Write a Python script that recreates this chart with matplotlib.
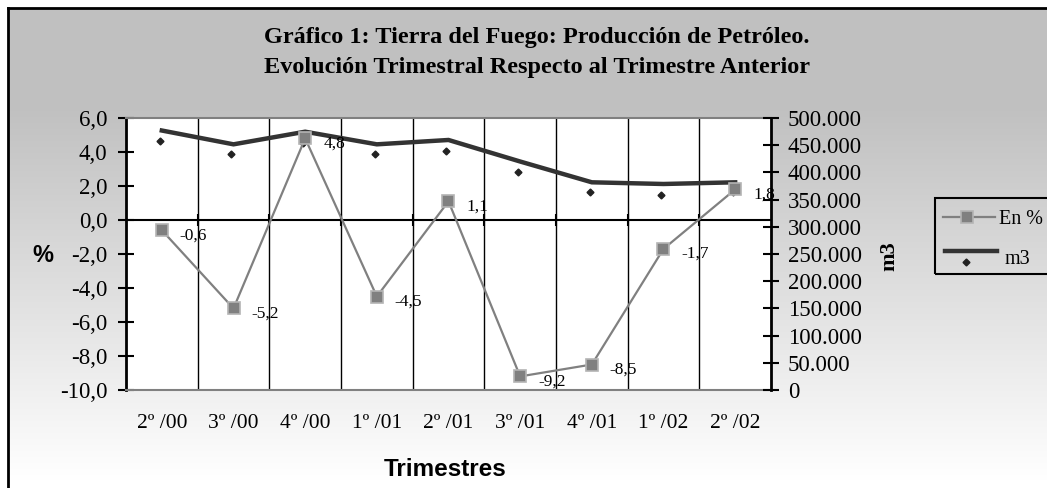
import matplotlib
matplotlib.use('Agg')
import matplotlib.pyplot as plt
import numpy as np
from matplotlib.lines import Line2D
from matplotlib.patches import Rectangle
from matplotlib.ticker import FuncFormatter, MultipleLocator

categories = ["2º /00", "3º /00", "4º /00", "1º /01", "2º /01",
              "3º /01", "4º /01", "1º /02", "2º /02"]
pct = [-0.6, -5.2, 4.8, -4.5, 1.1, -9.2, -8.5, -1.7, 1.8]
m3_line = [477000, 451600, 474800, 451600, 459600, 420000, 381800, 378700, 381800]
m3_dots = [458300, 433300, 454600, 433300, 439900, 400200, 363400, 359000, 364500]

W, H = 1047, 488
fig = plt.figure(figsize=(W / 100, H / 100), dpi=100)
fig.patch.set_facecolor('white')

def fx(x):
    return x / W

def fy(y):
    return 1 - y / H

# background gradient panel
bg = fig.add_axes([fx(8), 0, 1 - fx(8), fy(8)])
rows = np.arange(8, H)
vals = np.where(rows < 105, 0.753, 0.753 + (1 - 0.753) * np.clip((rows - 105) / (480 - 105), 0, 1))
grad = np.repeat(vals[:, None], 2, axis=1)
bg.imshow(np.dstack([grad, grad, grad]), aspect='auto', extent=[0, 1, 0, 1], interpolation='bilinear')
bg.set_xlim(0, 1)
bg.set_ylim(0, 1)
bg.axis('off')
fig.add_artist(Line2D([fx(8), fx(8)], [0, fy(8)], color='black', lw=2, transform=fig.transFigure))
fig.add_artist(Line2D([fx(8), 1], [fy(8), fy(8)], color='black', lw=2, transform=fig.transFigure))

serif = 'Liberation Serif'
sans = 'Liberation Sans'

ax = fig.add_axes([fx(126), fy(390), fx(771) - fx(126), fy(118) - fy(390)])
ax.set_facecolor('white')
x = np.arange(1, len(categories) + 1)
ax.set_xlim(0.5, len(categories) + 0.5)
ax.set_ylim(-10, 6)

# vertical gridlines at category boundaries
bounds = np.arange(1.5, len(categories), 1.0)
ax.vlines(bounds, -10, 6, color='black', lw=1, zorder=1)
ax.axhline(0, color='black', lw=1.5, zorder=2)
ax.vlines(bounds, -0.38, 0.38, color='black', lw=1.5, zorder=2)

ax.yaxis.set_major_locator(MultipleLocator(2))
ax.yaxis.set_major_formatter(FuncFormatter(lambda v, p: f"{v:.1f}".replace('.', ',')))
ax.tick_params(axis='y', direction='inout', length=12, width=1.5, labelsize=16.5, pad=7.5)
ax.set_xticks(x)
ax.set_xticklabels(categories, fontfamily=serif, fontsize=15.5)
ax.tick_params(axis='x', length=0, pad=17)
for lab in ax.get_yticklabels():
    lab.set_fontfamily(serif)

for s in ['top', 'bottom']:
    ax.spines[s].set_color('#808080')
    ax.spines[s].set_linewidth(1.5)
ax.spines['left'].set_color('black')
ax.spines['left'].set_linewidth(2)
ax.spines['right'].set_visible(False)

ax2 = ax.twinx()
ax2.set_ylim(0, 500000)
ax2.yaxis.set_major_locator(MultipleLocator(50000))
ax2.yaxis.set_major_formatter(FuncFormatter(lambda v, p: f"{int(v):,}".replace(',', '.')))
ax2.tick_params(axis='y', direction='inout', length=12, width=1.5, labelsize=16.5, pad=6)
for lab in ax2.get_yticklabels():
    lab.set_fontfamily(serif)
for s in ['top', 'bottom', 'left']:
    ax2.spines[s].set_visible(False)
ax2.spines['right'].set_color('black')
ax2.spines['right'].set_linewidth(2)

ax2.plot(x, m3_line, color='#333333', lw=3.2, solid_joinstyle='miter', zorder=3)
ax2.plot(x - 0.03, m3_dots, linestyle='none', marker='D', markersize=3.5, color='#222222', zorder=3)

ax3 = ax.twinx()
ax3.set_ylim(-10, 6)
ax3.axis('off')
ax3.plot(x, pct, color='#808080', lw=1.6, marker='s', markersize=8.5,
         markerfacecolor='#808080', markeredgecolor='#b4b4b4', markeredgewidth=1.2, zorder=4)
for xi, v in zip(x, pct):
    ax3.annotate(f"{v:.1f}".replace('.', ','), xy=(xi, v), xytext=(18, -5),
                 textcoords='offset pixels', ha='left', va='center',
                 fontfamily=serif, fontsize=12.5, color='black', zorder=5)

# axis titles
fig.text(fx(42.5), fy(256), '%', fontfamily=sans, fontweight='bold', fontsize=17, ha='center', va='center')
fig.text(fx(889), fy(256), 'm3', fontfamily=serif, fontweight='bold', fontsize=16, ha='center', va='center', rotation=90)
fig.text(fx(445), fy(470), 'Trimestres', fontfamily=sans, fontweight='bold', fontsize=17.5, ha='center', va='center')

# title
fig.text(fx(537), fy(38), 'Gráfico 1: Tierra del Fuego: Producción de Petróleo.', fontfamily=serif,
         fontweight='bold', fontsize=17.5, ha='center', va='center')
fig.text(fx(537), fy(67), 'Evolución Trimestral Respecto al Trimestre Anterior', fontfamily=serif,
         fontweight='bold', fontsize=17.5, ha='center', va='center')

# legend (manual)
fig.add_artist(Rectangle((fx(935), fy(273.5)), 1 - fx(935) + 0.01, fy(198.3) - fy(273.5), fill=False,
                         edgecolor='black', lw=1.5, transform=fig.transFigure))
fig.add_artist(Line2D([fx(943), fx(995)], [fy(217.3), fy(217.3)], color='#808080', lw=1.6,
                      transform=fig.transFigure))
fig.add_artist(Line2D([fx(967)], [fy(217.3)], marker='s', markersize=8, markerfacecolor='#808080',
                      markeredgecolor='#b4b4b4', markeredgewidth=1.2, linestyle='none',
                      transform=fig.transFigure))
fig.text(fx(999), fy(220), 'En %', fontfamily=serif, fontsize=14.5, ha='left', va='center')
fig.add_artist(Line2D([fx(945), fx(997)], [fy(251), fy(251)], color='#333333', lw=3.2,
                      transform=fig.transFigure))
fig.add_artist(Line2D([fx(966)], [fy(262)], marker='D', markersize=3.5, color='#222222',
                      linestyle='none', transform=fig.transFigure))
fig.text(fx(1005), fy(260), 'm3', fontfamily=serif, fontsize=14.5, ha='left', va='center')

fig.savefig('out.png', dpi=100)
